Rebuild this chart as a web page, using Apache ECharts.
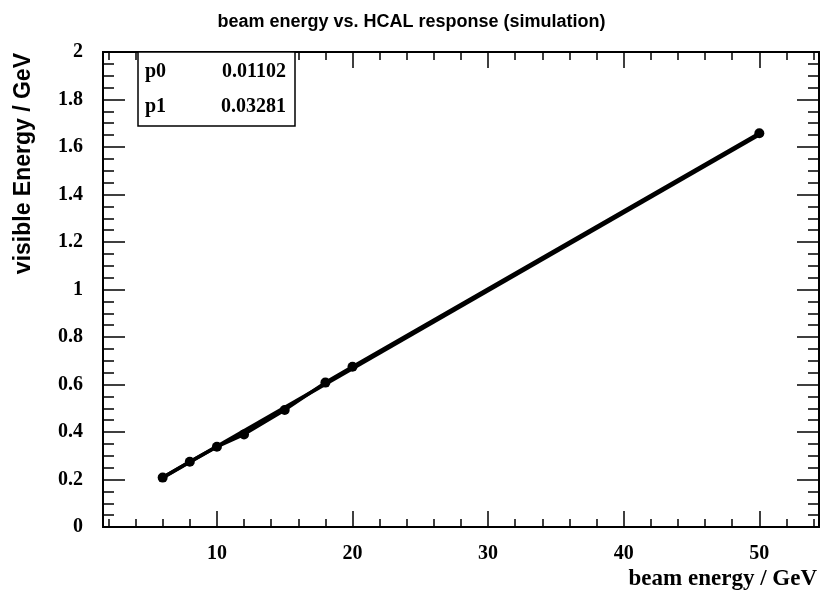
<!DOCTYPE html>
<html>
<head>
<meta charset="utf-8">
<script src="https://cdn.jsdelivr.net/npm/echarts@6/dist/echarts.min.js"></script>
<style>
  html, body { margin: 0; padding: 0; background: #fff; }
  #chart { width: 823px; height: 595px; }
</style>
</head>
<body>
<div id="chart"></div>
<script>
// Measured beam energies and visible HCAL energies
const beamEnergy = [6, 8, 10, 12, 15, 18, 20, 50];
const visibleEnergy = [0.208, 0.275, 0.338, 0.390, 0.493, 0.608, 0.675, 1.658];

// Linear fit parameters: E_vis = p0 + p1 * E_beam
const fitParams = { p0: 0.01102, p1: 0.03281 };
const fitRange = [6, 50];

// Axis ranges and ticks
const xRange = [1.6, 54.4];
const xMajorTicks = [10, 20, 30, 40, 50];
const xMinorTicks = [2, 4, 6, 8, 12, 14, 16, 18, 22, 24, 26, 28, 32, 34, 36, 38, 42, 44, 46, 48, 52, 54];
const yRange = [0, 2];
const yInterval = 0.2;

const fitLine = fitRange.map(x => [x, fitParams.p0 + fitParams.p1 * x]);
const points = beamEnergy.map((x, i) => [x, visibleEnergy[i]]);

const tickFont = { fontFamily: 'Liberation Serif', fontWeight: 'bold', fontSize: 20, color: '#000' };

function xAxisDef(position, ticks, len, labels) {
  return {
    type: 'value', position, min: xRange[0], max: xRange[1],
    axisLine: { show: true, lineStyle: { color: '#000', width: 2 } },
    axisTick: { show: true, inside: true, length: len, customValues: ticks, lineStyle: { color: '#000', width: 1.5 } },
    axisLabel: labels ? Object.assign({ show: true, customValues: ticks, margin: 17 }, tickFont) : { show: false },
    splitLine: { show: false }
  };
}

function yAxisDef(position, labels) {
  return {
    type: 'value', position, min: yRange[0], max: yRange[1], interval: yInterval,
    axisLine: { show: true, lineStyle: { color: '#000', width: 2 } },
    axisTick: { show: true, inside: true, length: 22, lineStyle: { color: '#000', width: 1.5 } },
    minorTick: { show: true, splitNumber: 4, length: 11, lineStyle: { color: '#000', width: 1.5 } },
    axisLabel: labels ? Object.assign({ show: true, margin: 20, formatter: v => String(+v.toFixed(1)) }, tickFont) : { show: false },
    splitLine: { show: false },
    minorSplitLine: { show: false }
  };
}

const chart = echarts.init(document.getElementById('chart'), null, { renderer: 'canvas' });
chart.setOption({
  animation: false,
  backgroundColor: '#fff',
  title: {
    text: 'beam energy vs. HCAL response (simulation)',
    left: 'center', top: 8,
    textStyle: { fontFamily: 'Liberation Sans', fontWeight: 'bold', fontSize: 18, color: '#000' }
  },
  grid: { left: 103, right: 4, top: 52, bottom: 68, show: false },
  xAxis: [
    xAxisDef('bottom', xMajorTicks, 16, true),
    xAxisDef('bottom', xMinorTicks, 8, false),
    xAxisDef('top', xMajorTicks, 16, false),
    xAxisDef('top', xMinorTicks, 8, false)
  ],
  yAxis: [
    yAxisDef('left', true),
    yAxisDef('right', false)
  ],
  series: [
    {
      type: 'line', data: fitLine, xAxisIndex: 0, yAxisIndex: 0,
      symbol: 'none', lineStyle: { color: '#000', width: 3.5 }, z: 2
    },
    {
      type: 'line', data: points, xAxisIndex: 0, yAxisIndex: 0,
      symbol: 'circle', symbolSize: 10,
      itemStyle: { color: '#000' },
      lineStyle: { color: '#000', width: 3.5 }, z: 3
    }
  ],
  graphic: [
    {
      type: 'text', left: 12, top: 53, rotation: Math.PI / 2,
      style: { text: 'visible Energy / GeV', font: 'bold 23px "Liberation Sans"', fill: '#000' }
    },
    {
      type: 'text', right: 6, top: 568,
      style: { text: 'beam energy / GeV', font: 'bold 23px "Liberation Serif"', fill: '#000' }
    },
    {
      type: 'rect', shape: { x: 138, y: 52, width: 157, height: 74 },
      style: { fill: '#fff', stroke: '#000', lineWidth: 1.5 }, z: 10
    },
    {
      type: 'text', x: 145, y: 72, z: 11,
      style: { text: 'p0', font: 'bold 20px "Liberation Serif"', fill: '#000', verticalAlign: 'middle' }
    },
    {
      type: 'text', x: 286, y: 72, z: 11,
      style: { text: fitParams.p0.toFixed(5), font: 'bold 20px "Liberation Serif"', fill: '#000', align: 'right', verticalAlign: 'middle' }
    },
    {
      type: 'text', x: 145, y: 107, z: 11,
      style: { text: 'p1', font: 'bold 20px "Liberation Serif"', fill: '#000', verticalAlign: 'middle' }
    },
    {
      type: 'text', x: 286, y: 107, z: 11,
      style: { text: fitParams.p1.toFixed(5), font: 'bold 20px "Liberation Serif"', fill: '#000', align: 'right', verticalAlign: 'middle' }
    }
  ]
});
</script>
</body>
</html>
